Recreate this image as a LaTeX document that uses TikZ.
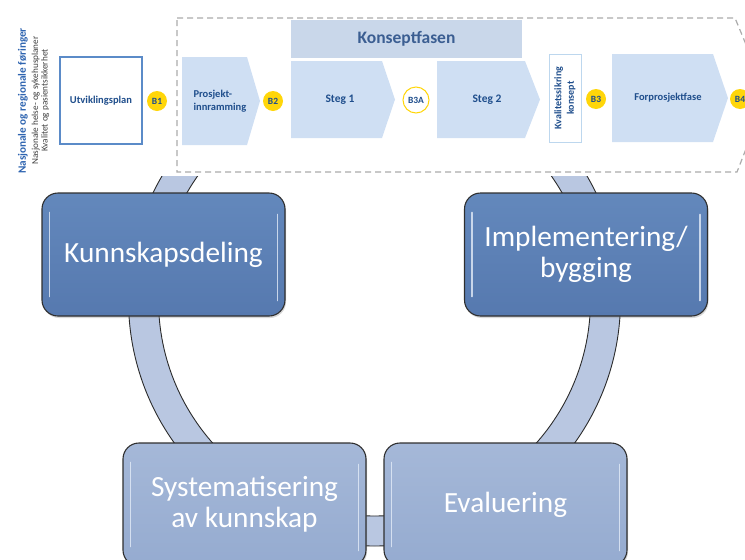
\documentclass[tikz,border=0pt]{standalone}
\usepackage{fontspec}
\setmainfont{Carlito}
\usetikzlibrary{shadows}
\definecolor{darkblue}{HTML}{1F4E8C}
\definecolor{leftblue}{HTML}{2E64B0}
\definecolor{planblue}{HTML}{5B8BC8}
\definecolor{chevfill}{HTML}{CFDFF3}
\definecolor{konfill}{HTML}{C9D7EA}
\definecolor{kontext}{HTML}{3B5E92}
\definecolor{kvborder}{HTML}{BDD7EE}
\definecolor{byellow}{HTML}{FFD60A}
\definecolor{dashgray}{HTML}{ABABAB}
\definecolor{ringfill}{HTML}{B9C7E1}
\definecolor{ringline}{HTML}{2B2B2B}
\definecolor{boxline}{HTML}{2F2F2F}
\definecolor{toptop}{HTML}{6388BC}
\definecolor{topbot}{HTML}{5679AF}
\definecolor{bottop}{HTML}{A5B8D8}
\definecolor{botbot}{HTML}{95ABD0}
\definecolor{gloss}{HTML}{E4ECF8}
\tikzset{
  cyclebox/.style={draw=boxline, line width=1.1pt, rounded corners=16pt,
    minimum width=243pt, minimum height=123pt, align=center, text=white,
    font=\fontsize{29.3}{31}\selectfont,
    drop shadow={opacity=.3, shadow xshift=1pt, shadow yshift=-2pt}},
  topbox/.style={cyclebox, top color=toptop, bottom color=topbot},
  botbox/.style={cyclebox, top color=bottop, bottom color=botbot},
  glossline/.style={gloss, line width=1.6pt, line cap=round, opacity=.8},
  bcirc/.style={circle, fill=byellow, inner sep=0pt, minimum size=20pt,
    text=darkblue, font=\fontsize{9.5}{10}\bfseries},
  bcircopen/.style={circle, fill=white, draw=byellow, line width=1pt, inner sep=0pt,
    minimum size=26pt, text=darkblue, font=\fontsize{9.5}{10}\bfseries},
  chevshape/.style={fill=chevfill},
  bantext/.style={text=darkblue, font=\fontsize{10.5}{13}\bfseries},
  dashbox/.style={draw=dashgray, line width=1.2pt, dash pattern=on 6pt off 4pt}
}
\begin{document}
\begin{tikzpicture}[x=1pt,y=-1pt]
\useasboundingbox (0,0) rectangle (745,560);
\clip (0,0) rectangle (745,560);

% ring behind the cycle boxes
\begin{scope}
  \clip (-10,176) rectangle (760,600);
  \fill[ringfill, draw=ringline, line width=0.9pt, even odd rule]
    (374.5,300) circle[radius=246pt] (374.5,300) circle[radius=216pt];
\end{scope}

% cycle boxes
\node[topbox] (kd) at (163.5,254.5) {Kunnskapsdeling};
\node[topbox] (ib) at (586,254.5) {Implementering/\\bygging};
\node[botbox] (sk) at (244.5,504.5) {Systematisering\\av kunnskap};
\node[botbox] (ev) at (505.5,504.5) {Evaluering};
\foreach \b in {kd,ib,sk,ev}{
  \draw[glossline] ([xshift=8pt,yshift=-20pt]\b.north west) -- ([xshift=8pt,yshift=20pt]\b.south west);
  \draw[glossline] ([xshift=-8pt,yshift=-22pt]\b.north east) -- ([xshift=-8pt,yshift=16pt]\b.south east);
}

% banner
\draw[dashbox] (177,18) -- (735,18) -- (767,95) -- (737,172) -- (177,172) -- cycle;

\node[rotate=90, text=leftblue, font=\fontsize{11.2}{12}\bfseries] (nrf) at (23,101) {Nasjonale og regionale føringer};
\node[rotate=90, align=center, text=black!75, font=\fontsize{9.2}{9.5}\selectfont] (nhs) at (40.5,100.5)
  {Nasjonale helse- og sykehusplaner\\Kvalitet og pasientsikkerhet};

\node[draw=planblue, line width=1.2pt, fill=white, minimum width=82pt, minimum height=87pt, bantext] (up) at (101,100.5) {Utviklingsplan};
\node[bcirc] (b1) at (157,101) {B1};

\fill[chevshape] (182,57) -- (247,57) -- (260,101) -- (247,145) -- (182,145) -- cycle;
\node[bantext, anchor=west, align=left] (pi) at (190,101) {Prosjekt-\\innramming};
\node[bcirc] (b2) at (273,101) {B2};

\fill[konfill] (291,20) rectangle (522,58);
\node[text=kontext, font=\fontsize{17.5}{19}\bfseries] (kf) at (406.5,39) {Konseptfasen};

\fill[chevshape] (291,61) -- (382,61) -- (395,99.5) -- (382,138) -- (291,138) -- cycle;
\node[bantext, font=\fontsize{11.5}{13}\bfseries] (s1) at (340,100) {Steg 1};
\node[bcircopen] (b3a) at (416,100) {B3A};
\fill[chevshape] (437,61) -- (525,61) -- (540,99.5) -- (525,138) -- (437,138) -- cycle;
\node[bantext, font=\fontsize{11.5}{13}\bfseries] (s2) at (487,100) {Steg 2};

\draw[kvborder, line width=1pt, fill=white] (549,54) rectangle (581,142);
\node[bantext, rotate=90, align=center, font=\fontsize{10}{12.5}\bfseries] (kk) at (565,98) {Kvalitetssikring\\konsept};
\node[bcirc] (b3) at (596,99) {B3};

\fill[chevshape] (612,54) -- (713,54) -- (728,98) -- (713,142) -- (612,142) -- cycle;
\node[bantext] (fp) at (668,98) {Forprosjektfase};
\node[bcirc] (b4) at (740,99) {B4};
\end{tikzpicture}
\end{document}
